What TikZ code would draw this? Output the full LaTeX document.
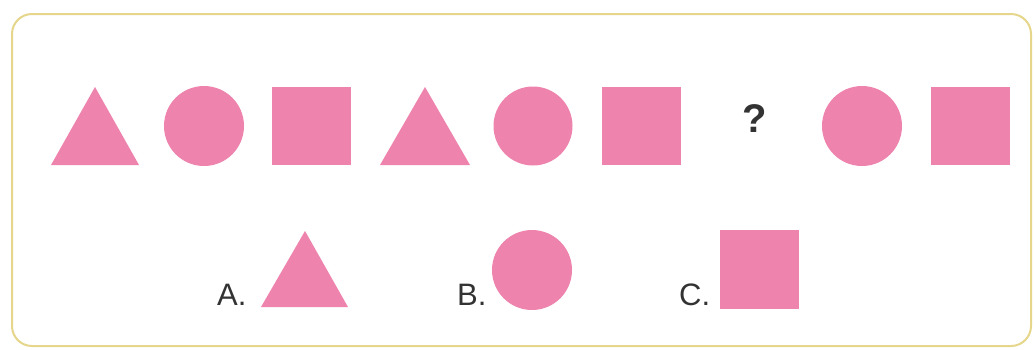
\documentclass[tikz,border=0pt]{standalone}
\usepackage{fontspec}
\setmainfont{Liberation Sans}
\definecolor{shapepink}{HTML}{EE84AE}
\definecolor{framegold}{HTML}{E6D68C}
\definecolor{txtgray}{HTML}{333333}
\tikzset{
  pinkshape/.style={fill=shapepink, draw=none},
  frame/.style={draw=framegold, line width=2pt, rounded corners=20pt},
  optlabel/.style={anchor=base west, inner sep=0pt, text=txtgray, font=\fontsize{31}{31}\selectfont},
  qmark/.style={anchor=center, inner sep=0pt, text=txtgray, font=\bfseries\fontsize{40}{40}\selectfont}
}
\begin{document}
\begin{tikzpicture}[x=1pt,y=-1pt]
\useasboundingbox (0,0) rectangle (1034,349);
\fill[white] (0,0) rectangle (1034,349);
\draw[frame] (12,14) rectangle (1031,346);
% top row
\fill[pinkshape] (51,165) -- (95,87) -- (139,165) -- cycle;
\fill[pinkshape] (204,126) circle[radius=40];
\fill[pinkshape] (272,87) rectangle (351,165);
\fill[pinkshape] (380,165) -- (425,87) -- (470,165) -- cycle;
\fill[pinkshape] (533,126) circle[radius=39.5];
\fill[pinkshape] (602,87) rectangle (681,165);
\node[qmark] (q) at (755,119) {?};
\fill[pinkshape] (862,126) circle[radius=40];
\fill[pinkshape] (931,87) rectangle (1010,165);
% options
\node[optlabel] (la) at (217,305) {A.};
\fill[pinkshape] (261,307) -- (305,231) -- (348,307) -- cycle;
\node[optlabel] (lb) at (457,305) {B.};
\fill[pinkshape] (532,270) circle[radius=40];
\node[optlabel] (lc) at (679,305) {C.};
\fill[pinkshape] (720,230) rectangle (799,309);
\end{tikzpicture}
\end{document}
